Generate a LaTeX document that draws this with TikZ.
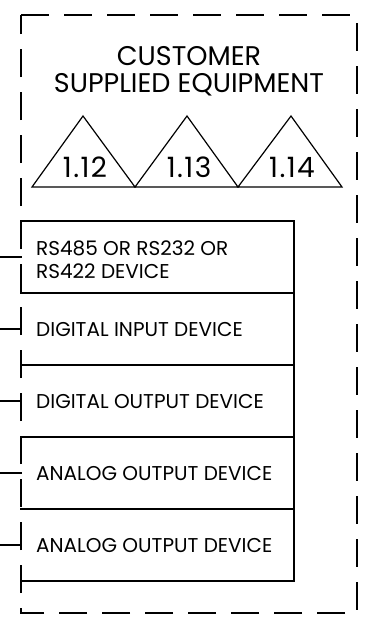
\documentclass[tikz,border=0pt]{standalone}
\usepackage{fontspec}
\setmainfont{Poppins}
\begin{document}
\begin{tikzpicture}[x=1pt,y=-1pt,
  wire/.style={line width=1.3pt,line cap=rect},
  boundary/.style={line width=1.3pt,dash pattern=on 28pt off 15pt},
  tri/.style={line width=1.2pt,line join=miter},
  devtext/.style={anchor=west,inner sep=0pt,font=\fontsize{20}{23}\selectfont,align=left},
  trilabel/.style={inner sep=0pt,font=\fontsize{28}{30}\selectfont\addfontfeatures{LetterSpace=5}},
  titletext/.style={inner sep=0pt,font=\fontsize{27}{27}\selectfont,align=center}]
\useasboundingbox (0,0) rectangle (376,624);
% outer dashed boundary
\draw[boundary] (21,15) -- (357,15) -- (357,613) -- (21,613) -- cycle;
% title
\node[titletext] (title) at (189,71) {CUSTOMER\\SUPPLIED EQUIPMENT};
% triangles
\draw[tri] (32,187) -- (83,116) -- (135,187) -- cycle;
\draw[tri] (135,187) -- (187,116) -- (238,187) -- cycle;
\draw[tri] (238,187) -- (291,116) -- (342,187) -- cycle;
\node[trilabel] (t1) at (85,167) {1.12};
\node[trilabel] (t2) at (189,167) {1.13};
\node[trilabel] (t3) at (292,167) {1.14};
% device boxes
\draw[wire] (21,221) -- (294,221) -- (294,581) -- (21,581);
\foreach \yy in {293,365,437,509} \draw[wire] (21,\yy) -- (294,\yy);
\node[devtext] (d1) at (36,260) {RS485 OR RS232 OR\\RS422 DEVICE};
\node[devtext] (d2) at (36,330) {DIGITAL INPUT DEVICE};
\node[devtext] (d3) at (36,402) {DIGITAL OUTPUT DEVICE};
\node[devtext] (d4) at (36,474) {ANALOG OUTPUT DEVICE};
\node[devtext] (d5) at (36,546) {ANALOG OUTPUT DEVICE};
% wires
\foreach \i/\yy in {1/257,2/329,3/401,4/473,5/545}{
  \coordinate (w\i) at (0,\yy);
  \coordinate (p\i) at (21,\yy);
  \draw[wire] (w\i) -- (p\i);
}
\end{tikzpicture}
\end{document}
